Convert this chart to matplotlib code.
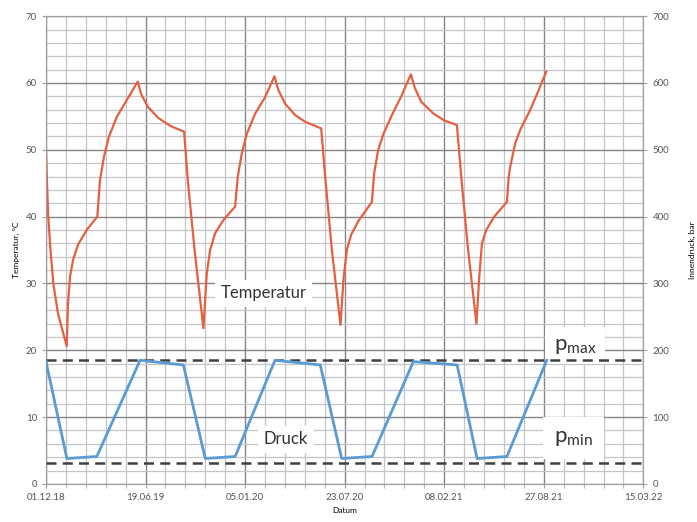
import numpy as np
import matplotlib
matplotlib.use("Agg")
import matplotlib.pyplot as plt
import matplotlib.dates as mdates

plt.rcParams['font.family'] = ['Lato', 'DejaVu Sans']
plt.rcParams['mathtext.fontset'] = 'custom'
plt.rcParams['mathtext.rm'] = 'Lato'

# Werte (Tage ab 01.12.18)
start = np.datetime64('2018-12-01')

temp_tage = [0, 2, 4.6, 9, 14.7, 24.1, 41.6, 44.2, 48.2, 54.3, 64.3, 81.8, 103.1,
             108.5, 116.6, 126.6, 142.7, 162.8, 184.3, 192, 205, 225.1, 249.2, 277.4,
             285.4, 298.5,
             316.2, 323, 329.7, 339.7, 356.4, 379.9, 385.3, 393.4, 403.4, 420.1, 440.2, 458.9,
             467, 480.4, 500.5, 520.6, 552.8, 560.8, 574.3,
             591.6, 598, 604.4, 613.1, 627.2, 654.7, 659.3, 667.4, 678, 695.5, 713.6, 733.1,
             740.7, 753.8, 778.5, 800, 825.5, 834.2, 847.3,
             864.7, 870.4, 875.8, 884.4, 900.5, 926, 929.6, 932.7, 942.7, 952.8, 972.9, 989, 1005]
temperatur = [50, 45, 40, 35, 30, 25.5, 20.6, 27, 31, 33.5, 35.8, 38, 40,
              45.5, 49, 52, 55, 57.5, 60.2, 58.2, 56.4, 54.8, 53.6, 52.7,
              45, 35,
              23.3, 31.5, 35, 37.5, 39.5, 41.5, 46, 49.5, 52.4, 55.4, 57.9, 61,
              58.9, 56.9, 55.2, 54.2, 53.2, 46, 35,
              23.8, 31, 35, 37.3, 39.3, 42.2, 46.5, 50, 52.4, 55.3, 58, 61.3,
              59.3, 57.2, 55.4, 54.4, 53.7, 46, 35.5,
              24, 31, 36, 38, 40, 42.2, 46, 47.5, 51, 53, 56, 58.8, 61.7]

druck_tage = [0, 42, 102, 189, 276, 320, 380, 460, 551, 594, 655, 738, 826, 866, 926, 1006]
druck = [183, 38, 41, 185, 178, 38, 41, 185, 178, 38, 41, 183, 178, 38, 41, 185]

p_max = 186
p_min = 32

temp_x = start + np.round(np.array(temp_tage) * 24).astype('timedelta64[h]')
druck_x = start + np.array(druck_tage).astype('timedelta64[D]')

fig = plt.figure(figsize=(6.97, 5.22), dpi=100)
ax = fig.add_axes([0.066, 0.073, 0.857, 0.896])
ax2 = ax.twinx()

ax.set_xlim(start, start + np.timedelta64(1200, 'D'))
ax.set_ylim(0, 70)
ax2.set_ylim(0, 700)

ax.set_xticks(start + np.arange(0, 1201, 200).astype('timedelta64[D]'))
ax.set_xticks(start + np.arange(0, 1201, 40).astype('timedelta64[D]'), minor=True)
ax.xaxis.set_major_formatter(mdates.DateFormatter('%d.%m.%y'))
ax.set_yticks(np.arange(0, 71, 10))
ax.set_yticks(np.arange(0, 71, 2), minor=True)
ax2.set_yticks(np.arange(0, 701, 100))

ax.grid(which='major', color='#858585', lw=1.0)
ax.grid(which='minor', color='#c2c5c9', lw=0.9)
ax.set_axisbelow(True)

for a in (ax, ax2):
    for s in a.spines.values():
        s.set_color('#a0a0a0')
    a.tick_params(which='both', colors='#a0a0a0', labelcolor='#555555', labelsize=7, length=3)
ax.tick_params(axis='y', which='minor', length=0)

ax.plot(temp_x, temperatur, color='#e4603f', lw=1.6, zorder=5)
ax2.plot(druck_x, druck, color='#5b9bd5', lw=2.0, zorder=5)
ax2.axhline(p_max, color='#404040', lw=1.8, ls=(0, (4, 2.5)), zorder=4)
ax2.axhline(p_min, color='#404040', lw=1.8, ls=(0, (4, 2.5)), zorder=4)

box = dict(facecolor='white', edgecolor='none', pad=4)
ax.text(start + np.timedelta64(437, 'D'), 28.5, 'Temperatur', fontsize=12, color='#333333',
        ha='center', va='center', bbox=box, zorder=3)
ax.text(start + np.timedelta64(482, 'D'), 6.7, 'Druck', fontsize=12, color='#333333',
        ha='center', va='center', bbox=box, zorder=3)
ax.text(start + np.timedelta64(1020, 'D'), 20.7, r'$\mathrm{p}_{\mathrm{max}}$', fontsize=16,
        color='#333333', ha='left', va='center', bbox=dict(facecolor='white', edgecolor='none', pad=6), zorder=3)
ax.text(start + np.timedelta64(1020, 'D'), 6.9, r'$\mathrm{p}_{\mathrm{min}}$', fontsize=16,
        color='#333333', ha='left', va='center', bbox=dict(facecolor='white', edgecolor='none', pad=8), zorder=3)

ax.set_xlabel('Datum', fontsize=6, labelpad=4)
ax.set_ylabel('Temperatur, °C', fontsize=6)
ax2.set_ylabel('Innendruck, bar', fontsize=6, labelpad=14)

fig.savefig('out.png', dpi=100)
